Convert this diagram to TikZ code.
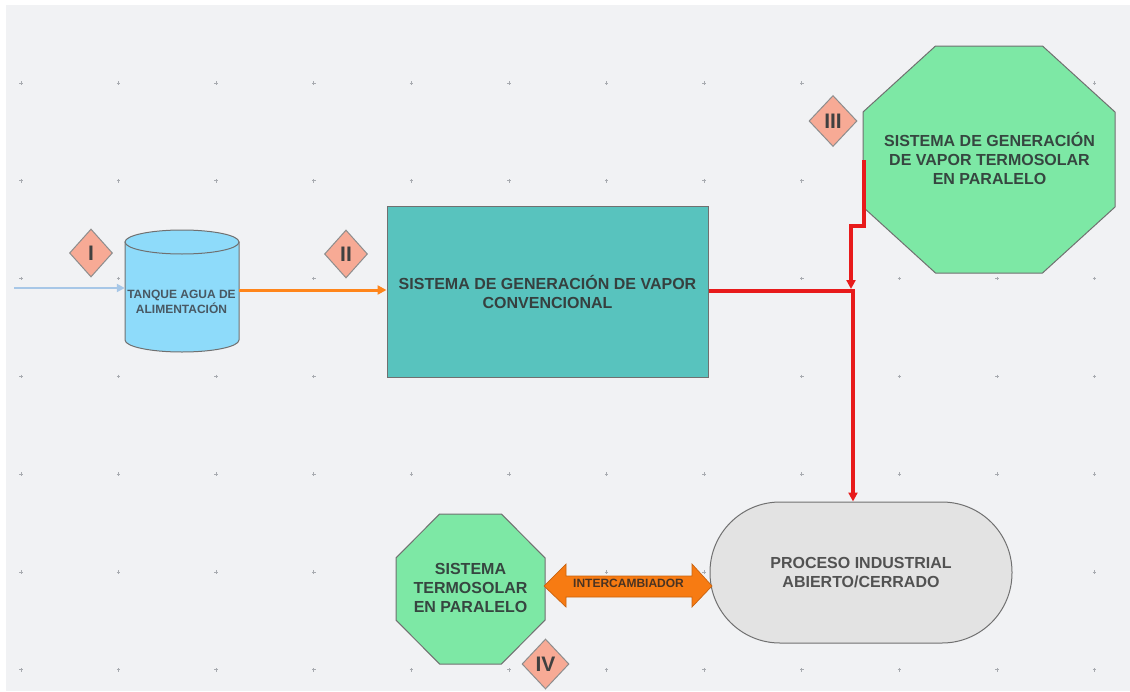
\documentclass[tikz,border=0pt]{standalone}
\usepackage{fontspec}
\setmainfont{Liberation Sans}
\usetikzlibrary{arrows.meta,shapes.geometric,calc}
\definecolor{bgc}{HTML}{F1F2F4}
\definecolor{gridc}{HTML}{A8ABB0}
\definecolor{tankc}{HTML}{8EDBFA}
\definecolor{tealc}{HTML}{58C3BE}
\definecolor{greenc}{HTML}{7DE8A5}
\definecolor{procc}{HTML}{E3E3E3}
\definecolor{salmonc}{HTML}{F7AA95}
\definecolor{orangec}{HTML}{FF851A}
\definecolor{dblc}{HTML}{F77B12}
\definecolor{dbldraw}{HTML}{C8620E}
\definecolor{redc}{HTML}{E81B1B}
\definecolor{bluec}{HTML}{A7C7E7}
\definecolor{edgec}{HTML}{707070}
\definecolor{txtc}{HTML}{36403F}
\definecolor{txtg}{HTML}{364640}
\definecolor{txtp}{HTML}{525252}
\definecolor{txtt}{HTML}{485863}
\definecolor{txto}{HTML}{4A3322}
\tikzset{
  x=1pt, y=-1pt,
  shapeedge/.style={draw=edgec, line width=1pt},
  label16/.style={font=\fontsize{16}{19}\selectfont\bfseries, align=center},
  marker/.style={diamond, shapeedge, draw=edgec!80, fill=salmonc, inner sep=0pt,
     font=\fontsize{21}{21}\selectfont\bfseries, text=black!75},
  redline/.style={draw=redc, line width=3.2pt},
  redtip/.style={-{Triangle[length=9pt,width=9pt]}},
  gridmark/.style={draw=gridc, line width=0.8pt}
}
\begin{document}
\begin{tikzpicture}
\useasboundingbox (0,0) rectangle (1130,691);
\fill[white] (0,0) rectangle (1130,691);
\fill[bgc] (6,5) rectangle (1130,691);
% grid marks
\foreach \i in {0,...,11}{
  \foreach \j in {0,...,6}{
    \pgfmathsetmacro{\gx}{21+97.6*\i}
    \pgfmathsetmacro{\gy}{83+97.8*\j}
    \draw[gridmark] (\gx-1.8,\gy) -- (\gx+1.8,\gy) (\gx,\gy-1.8) -- (\gx,\gy+1.8);
  }
}
% tank (cylinder)
\path[fill=tankc, draw=edgec, line width=1pt]
  (125,242) -- (125,340) arc[start angle=180, end angle=360, x radius=57pt, y radius=12pt]
  -- (239,242) -- cycle;
\path[fill=tankc, draw=edgec, line width=1pt] (182,242) ellipse [x radius=57pt, y radius=12pt];
\node[minimum width=114pt, minimum height=122pt, inner sep=0pt] (tank) at (182,289) {};
\node[font=\fontsize{12}{15}\selectfont\bfseries, align=center, text=txtt] (tanklbl) at (181.5,301.5)
  {TANQUE AGUA DE\\ALIMENTACIÓN};
% conventional box
\node[rectangle, shapeedge, fill=tealc, minimum width=321pt, minimum height=171pt,
      label16, text=txtc] (box) at (547.5,291.5)
  {SISTEMA DE GENERACIÓN DE VAPOR\\CONVENCIONAL};
% octagon III
\path[shapeedge, fill=greenc] (935.5,46) -- (1042.5,46) -- (1115,112) -- (1115,207)
  -- (1042.5,273) -- (935.5,273) -- (863,207) -- (863,112) -- cycle;
\node[label16, text=txtg] (oct3) at (989.5,158)
  {SISTEMA DE GENERACIÓN\\DE VAPOR TERMOSOLAR\\EN PARALELO};
\coordinate (oct3w) at (864,160);
% octagon IV
\path[shapeedge, fill=greenc] (439.6,514) -- (501.4,514) -- (545,557.9) -- (545,620.1)
  -- (501.4,664) -- (439.6,664) -- (396,620.1) -- (396,557.9) -- cycle;
\node[label16, text=txtg] (oct4) at (470.5,587.5)
  {SISTEMA\\TERMOSOLAR\\EN PARALELO};
% process
\node[rectangle, shapeedge, fill=procc, minimum width=302pt, minimum height=141pt,
      rounded corners=70pt, label16, text=txtp] (proc) at (861,572.5)
  {PROCESO INDUSTRIAL\\ABIERTO/CERRADO};
% double arrow (intercambiador)
\path[fill=dblc, draw=dbldraw, line width=0.7pt]
  (544,586) -- (566,564) -- (566,576) -- (692,576) -- (692,564) -- (712,586)
  -- (692,607) -- (692,597) -- (566,597) -- (566,607) -- cycle;
\node[font=\fontsize{12}{12}\selectfont\bfseries, text=txto] (inter) at (628.5,583) {INTERCAMBIADOR};
% markers
\node[marker, minimum width=43pt, minimum height=48pt] (m1) at (91,253) {I};
\node[marker, minimum width=43pt, minimum height=48pt] (m2) at (346,254) {II};
\node[marker, minimum width=48pt, minimum height=51pt] (m3) at (833,121) {III};
\node[marker, minimum width=47pt, minimum height=50pt] (m4) at (545.5,664) {IV};
% connectors
\coordinate (feed) at (14,288);
\draw[bluec, line width=2.4pt, -{Triangle[length=8pt,width=8pt]}] (feed) -- (feed -| tank.west);
\draw[orangec, line width=3pt, -{Triangle[length=9pt,width=9pt]}] (tank.east |- 0,290) -- (box.west |- 0,290);
\coordinate (j1) at (853,291);
\coordinate (j2) at (851,226);
\draw[redline, redtip, line join=miter] (box.east |- j1) -- (j1) -- (j1 |- proc.north);
\draw[redline, redtip] (oct3w) -- (oct3w |- j2) -- (j2) -- ($(j2 |- j1)+(0,-2)$);
\end{tikzpicture}
\end{document}
